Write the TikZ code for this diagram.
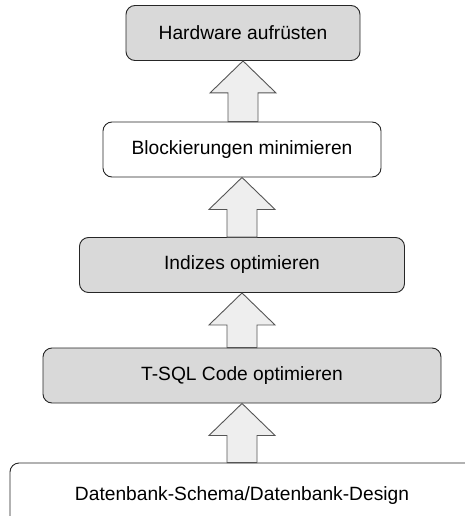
\documentclass[tikz,border=0pt]{standalone}
\usepackage{fontspec}
\setmainfont{Liberation Sans}
\usetikzlibrary{calc}
\definecolor{boxgray}{HTML}{D9D9D9}
\definecolor{arrowfill}{HTML}{EEEEEE}
\definecolor{arrowline}{HTML}{555555}
\tikzset{
  stage/.style={draw=black!85, line width=0.9pt, rounded corners=9pt,
    minimum height=55pt, inner sep=0pt, font=\fontsize{19.2}{22}\selectfont},
  shaded/.style={stage, fill=boxgray},
  plain/.style={stage, fill=white},
  blockarrow/.style={draw=arrowline, line width=0.9pt, fill=arrowfill, line join=miter},
}
% block arrow from the top of #2 up to the bottom of #1
\newcommand\stagearrow[2]{%
  \path (#1.south) coordinate (tip) (tip |- #2.north) coordinate (foot);
  \draw[blockarrow] (tip) -- ++(33,32) -- ++(-18,0) -- ($(foot)+(15,0)$)
    -- ($(foot)+(-15,0)$) -- ($(tip)+(-15,32)$) -- ++(-18,0) -- cycle;
}
\begin{document}
\begin{tikzpicture}[x=1pt,y=-1pt]
\useasboundingbox (0,0) rectangle (465,516);
\clip (0,0) rectangle (465,516);
\node[shaded, minimum width=234pt] (hw) at (243,33) {Hardware aufrüsten};
\node[plain, minimum width=278pt] (bl) at (242,149.5) {Blockierungen minimieren};
\node[shaded, minimum width=325pt] (ix) at (242,265) {Indizes optimieren};
\node[shaded, minimum width=398pt] (sql) at (242,375.5) {T-SQL Code optimieren};
\node[plain, minimum width=464pt, minimum height=66pt] (db) at (242,496) {Datenbank-Schema/Datenbank-Design};
\stagearrow{hw}{bl}
\stagearrow{bl}{ix}
\stagearrow{ix}{sql}
\stagearrow{sql}{db}
\end{tikzpicture}
\end{document}
